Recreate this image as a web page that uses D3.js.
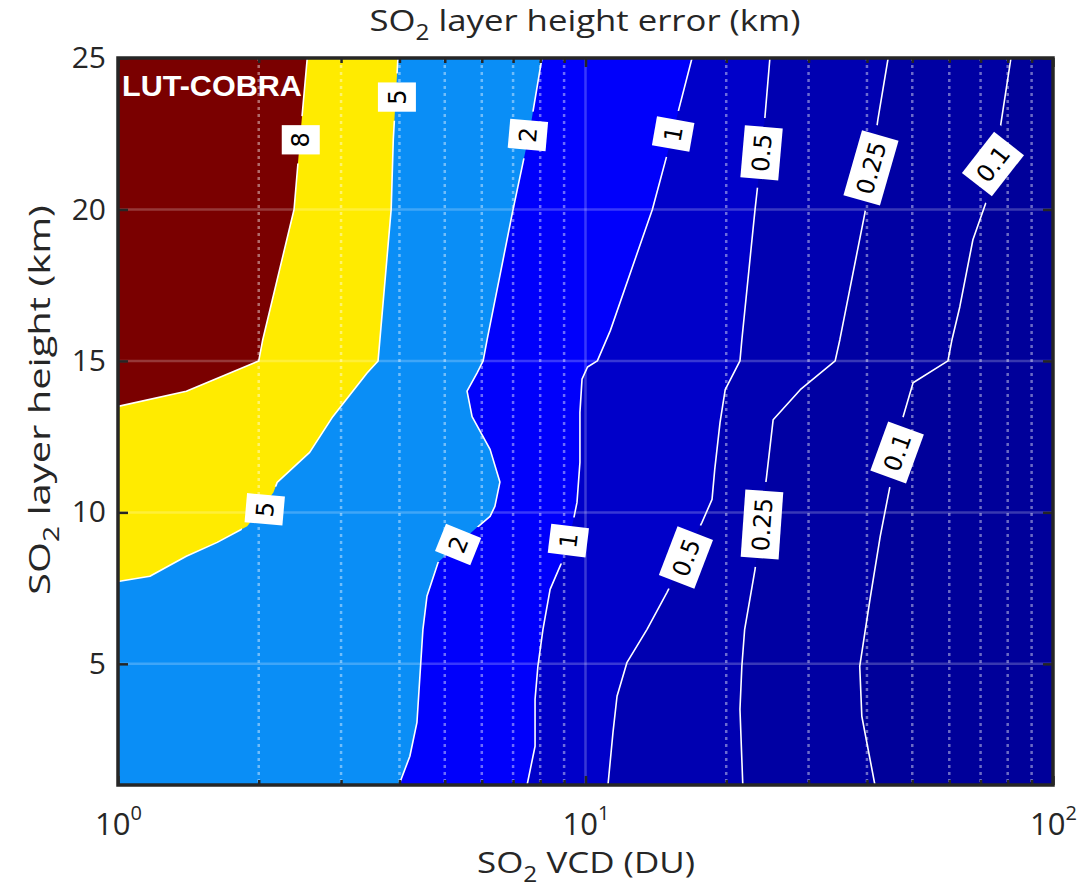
<!DOCTYPE html>
<html>
<head>
<meta charset="utf-8">
<script src="https://cdn.jsdelivr.net/npm/d3@7"></script>
<style>
  body { margin: 0; background: #fff; }
  text { font-family: "Open Sans", "DejaVu Sans", sans-serif; fill: #262626; }
</style>
</head>
<body>
<svg id="chart" width="1081" height="891"></svg>
<script>
// Contour levels of the SO2 layer height error (km)
const levels = [0.1, 0.25, 0.5, 1, 2, 5, 8];
// Fill colour of each band: below 0.1, 0.1-0.25, ..., above 8
const bandColors = ["#00009a", "#0000a3", "#0000b1", "#0000c9", "#0000fb", "#0a8ef6", "#ffeb00", "#7a0000"];

// Contour lines as [SO2 VCD (DU), layer height (km)], top to bottom
const contour01 = [[81.3,25],[77,22.63],[72.6,20.42],[67.4,19],[63.2,16.79],[60.8,15.7],[59.6,15],[50.2,14.28],[47.8,13.16],[44.8,10.86],[42.7,9.21],[40.6,7.13],[38.6,4.92],[39,3.27],[41.6,1]];
const contour025 = [[44.4,25],[42.2,22.96],[39.6,19.89],[35,15.7],[34.2,15],[28.8,14.05],[25.2,13.06],[24.4,11.19],[23.05,8.12],[21.9,6.14],[21.6,4.92],[21.4,3.5],[21.7,1]];
const contour05 = [[24.8,25],[24.2,23.05],[23.3,20.65],[23.05,20],[21.6,15.7],[21.4,15],[19.9,14.05],[19.4,12.97],[18.9,11.42],[18.65,10.43],[17.75,9.67],[14.94,7.36],[13.54,6.14],[12.27,5.05],[11.68,3.93],[11.45,2.74],[11.17,1]];
const contour1 = [[16.9,25],[15,21.9],[13.9,20],[11.3,16],[10.6,15],[10.1,14.8],[9.83,14.4],[9.73,13.3],[9.73,11.65],[9.59,10.33],[9.4,9.67],[8.95,8.45],[8.4,7.46],[8.11,6.14],[7.91,4.92],[7.8,3.83],[7.8,2.28],[7.5,1]];
const contour2 = [[8.07,25],[7.6,22.6],[7,20],[6.16,15.7],[6.04,15],[5.86,14.6],[5.58,14],[5.72,13.16],[6.25,12.08],[6.56,11],[6.4,10.2],[6.25,9.87],[5.8,9.44],[4.84,8.35],[4.58,7.23],[4.49,6.14],[4.36,3.07],[4.21,1.95],[3.99,1]];
const contour5 = [[3.97,25],[3.88,22.3],[3.84,20],[3.6,15],[3.41,14.6],[2.88,13.16],[2.57,11.98],[2.19,10.99],[2.15,10.66],[1.89,9.54],[1.63,9.01],[1.4,8.55],[1.17,7.89],[1,7.72]];
const contour8 = [[2.54,25],[2.45,22.3],[2.38,20],[2.04,15.7],[2,15],[1.4,14],[1,13.5]];
const contourLines = [contour01, contour025, contour05, contour1, contour2, contour5, contour8];

// Axis ticks
const xTickValues = [1, 10, 100];
const xMinorValues = [2, 3, 4, 5, 6, 7, 8, 9, 20, 30, 40, 50, 60, 70, 80, 90];
const yTickValues = [5, 10, 15, 20, 25];

// Inline contour labels: level, anchor [VCD, height], text angle
const labelPlacement = [
  { level: 8,    at: [2.46, 22.3],  angle: -90 },
  { level: 5,    at: [3.95, 23.71], angle: -90 },
  { level: 5,    at: [2.06, 10.1],  angle: -85 },
  { level: 2,    at: [7.53, 22.46], angle: -85 },
  { level: 2,    at: [5.34, 8.94],  angle: -68 },
  { level: 1,    at: [15.4, 22.49], angle: -80 },
  { level: 1,    at: [9.19, 9.07],  angle: -83 },
  { level: 0.5,  at: [23.8, 21.87], angle: -85 },
  { level: 0.5,  at: [16.4, 8.51],  angle: -69 },
  { level: 0.25, at: [40.8, 21.37], angle: -74 },
  { level: 0.25, at: [23.85, 9.6],  angle: -86 },
  { level: 0.1,  at: [74.4, 21.5],  angle: -52 },
  { level: 0.1,  at: [46.4, 11.98], angle: -70 }
];

const W = 1081, H = 891;
const x = d3.scaleLog().domain([1, 100]).range([118, 1053]);
const y = d3.scaleLinear().domain([1, 25]).range([785, 58]);
const [x0, x1] = x.range();
const [y1, y0] = y.range();
const ink = "#262626";

const svg = d3.select("#chart");
const defs = svg.append("defs");
defs.append("clipPath").attr("id", "plotClip")
  .append("rect").attr("x", x0).attr("y", y0).attr("width", x1 - x0).attr("height", y1 - y0);
const mask = defs.append("mask").attr("id", "lineMask")
  .attr("maskUnits", "userSpaceOnUse").attr("x", 0).attr("y", 0).attr("width", W).attr("height", H);
mask.append("rect").attr("width", W).attr("height", H).attr("fill", "#fff");

const plot = svg.append("g").attr("clip-path", "url(#plotClip)");

// Filled bands: lowest band everywhere, then each level's region to the left of its contour
plot.append("rect").attr("x", x0).attr("y", y0).attr("width", x1 - x0).attr("height", y1 - y0)
  .attr("fill", bandColors[0]);
const line = d3.line().x(d => x(d[0])).y(d => y(d[1]));
const xMin = x.domain()[0], yMax = y.domain()[1];
levels.forEach((lv, i) => {
  const pts = contourLines[i];
  const last = pts[pts.length - 1];
  const poly = pts.concat([[xMin, last[1]], [xMin, yMax]]);
  plot.append("path").attr("d", line(poly) + "Z").attr("fill", bandColors[i + 1]);
});

// Grid
const grid = plot.append("g");
grid.selectAll(".hgrid").data(yTickValues.filter(v => v < yMax)).join("line")
  .attr("x1", x0).attr("x2", x1).attr("y1", d => y(d)).attr("y2", d => y(d))
  .attr("stroke", "#fff").attr("stroke-opacity", 0.22).attr("stroke-width", 2.5);
grid.selectAll(".vgrid").data(xTickValues.slice(1, -1)).join("line")
  .attr("x1", d => x(d)).attr("x2", d => x(d)).attr("y1", y0).attr("y2", y1)
  .attr("stroke", "#fff").attr("stroke-opacity", 0.22).attr("stroke-width", 2.5);
grid.selectAll(".mgrid").data(xMinorValues).join("line")
  .attr("x1", d => x(d)).attr("x2", d => x(d)).attr("y1", y0).attr("y2", y1)
  .attr("stroke", "#fff").attr("stroke-opacity", 0.42).attr("stroke-width", 2.5)
  .attr("stroke-dasharray", "3,4");

// Contour lines (cut where labels sit)
const lines = plot.append("g").attr("mask", "url(#lineMask)");
contourLines.forEach(pts => {
  lines.append("path").attr("d", line(pts)).attr("fill", "none")
    .attr("stroke", "#fff").attr("stroke-width", 1.6).attr("stroke-linejoin", "round");
});

// Contour labels
const labels = plot.append("g");
labelPlacement.forEach(p => {
  const cx = x(p.at[0]), cy = y(p.at[1]);
  const g = labels.append("g").attr("transform", `translate(${cx},${cy}) rotate(${p.angle})`);
  const rect = g.append("rect").attr("fill", "#fff");
  const t = g.append("text").text(String(p.level))
    .attr("text-anchor", "middle").attr("dy", "0.36em")
    .style("font-family", "'DejaVu Sans', sans-serif").style("font-size", "24px").style("fill", "#000");
  const tw = t.node().getComputedTextLength();
  const along = tw + 14, across = 38;
  rect.attr("x", -along / 2).attr("y", -across / 2).attr("width", along).attr("height", across);
  mask.append("rect")
    .attr("x", -along / 2 - 9).attr("y", -across / 2 - 2).attr("width", along + 18).attr("height", across + 4)
    .attr("transform", `translate(${cx},${cy}) rotate(${p.angle})`).attr("fill", "#000");
});

// Panel tag
const tag = svg.append("g").attr("transform", "translate(122,96)");
const tagText = tag.append("text").text("LUT-COBRA")
  .style("font-family", "'Liberation Sans', Arial, sans-serif").style("font-weight", "bold")
  .style("font-size", "29px").style("fill", "#fff");

// Axes: inward ticks on all four sides
function styleAxis(g) {
  g.select(".domain").remove();
  g.selectAll(".tick line").attr("stroke", ink).attr("stroke-width", 2.5);
}
svg.append("g").attr("transform", `translate(0,${y1})`)
  .call(d3.axisBottom(x).tickValues(xMinorValues).tickSize(-5).tickFormat(""))
  .call(styleAxis);
svg.append("g").attr("transform", `translate(0,${y0})`)
  .call(d3.axisTop(x).tickValues(xMinorValues).tickSize(-5).tickFormat(""))
  .call(styleAxis);
svg.append("g").attr("transform", `translate(0,${y0})`)
  .call(d3.axisTop(x).tickValues(xTickValues).tickSize(-9).tickFormat(""))
  .call(styleAxis);
const xAxis = svg.append("g").attr("transform", `translate(0,${y1})`)
  .call(d3.axisBottom(x).tickValues(xTickValues).tickSize(-9).tickPadding(40))
  .call(styleAxis);
xAxis.selectAll(".tick text").each(function (d) {
  const t = d3.select(this);
  t.text(null).attr("dy", null).attr("y", 50)
    .style("font-size", "31px").style("fill", ink).attr("font-family", null);
  t.append("tspan").text("10");
  t.append("tspan").attr("dy", -15).style("font-size", "20px").text(Math.round(Math.log10(d)));
});
svg.append("g").attr("transform", `translate(${x0},0)`)
  .call(d3.axisLeft(y).tickValues(yTickValues).tickSize(-10).tickPadding(12))
  .call(styleAxis)
  .selectAll(".tick text").style("font-size", "30px").style("fill", ink).attr("font-family", null);
svg.append("g").attr("transform", `translate(${x1},0)`)
  .call(d3.axisRight(y).tickValues(yTickValues).tickSize(-10).tickFormat(""))
  .call(styleAxis);

// Frame
svg.append("rect").attr("x", x0).attr("y", y0).attr("width", x1 - x0).attr("height", y1 - y0)
  .attr("fill", "none").attr("stroke", ink).attr("stroke-width", 3.5);

// Titles with subscripted "2", stretched to their width
function subText(g, before, after, size) {
  const t = g.append("text").attr("text-anchor", "middle").style("font-size", size + "px").style("fill", ink);
  t.append("tspan").text(before);
  t.append("tspan").attr("dy", size * 0.3).style("font-size", (size * 0.7) + "px").text("2");
  t.append("tspan").attr("dy", -size * 0.3).text(after);
  return t;
}
function fitWidth(t, target) {
  const w = t.node().getBBox().width;
  t.attr("transform", `scale(${target / w},1)`);
}
fitWidth(tagText, 180);
const title = svg.append("g").attr("transform", `translate(585,31)`);
fitWidth(subText(title, "SO", " layer height error (km)", 30), 431);
const xLabel = svg.append("g").attr("transform", `translate(586,873)`);
fitWidth(subText(xLabel, "SO", " VCD (DU)", 30), 218);
const yLabel = svg.append("g").attr("transform", `translate(50,400) rotate(-90)`);
fitWidth(subText(yLabel, "SO", " layer height (km)", 30), 390);
</script>
</body>
</html>
